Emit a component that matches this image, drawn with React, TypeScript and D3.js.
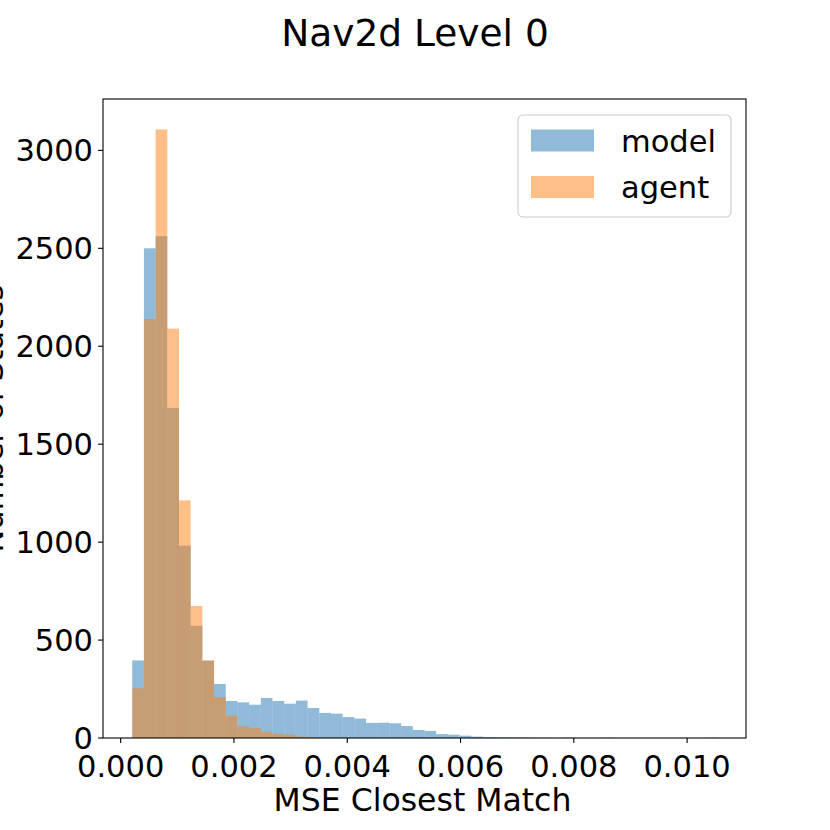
import React from 'react';
import * as d3 from 'd3';

const binStart = 0.000204;
const binWidth = 0.0002064;
const modelCounts = [
  396, 2500, 2562, 1685, 982, 573, 395, 276, 189, 182,
  170, 204, 189, 175, 191, 153, 128, 124, 107, 99,
  77, 78, 75, 61, 41, 36, 20, 17, 12, 7,
  5, 3, 2, 2, 1, 1, 0, 1, 0, 0,
  1, 0, 0, 0, 0, 0, 0, 0, 0, 1,
];
const agentCounts = [
  254, 2139, 3107, 2090, 1213, 674, 396, 208, 114, 60,
  51, 32, 20, 17, 7, 5, 2, 1, 1, 0,
  1, 0, 0, 0, 0, 0, 0, 0, 0, 0,
  0, 0, 0, 0, 0, 0, 0, 0, 0, 0,
  0, 0, 0, 0, 0, 0, 0, 0, 0, 0,
];
const seriesNames = ['model', 'agent'];
const seriesColors = ['#1f77b4', '#ff7f0e'];
const xTicks = [0, 0.002, 0.004, 0.006, 0.008, 0.01];
const yTicks = [0, 500, 1000, 1500, 2000, 2500, 3000];
const titleText = 'Nav2d Level 0';
const xLabelText = 'MSE Closest Match';
const yLabelText = 'Number of States';

const FONT = '"DejaVu Sans", sans-serif';

export default function App() {
  const W = 830, H = 830;
  const left = 103, right = 746, top = 99, bottom = 738;
  const n = modelCounts.length;
  const edges = d3.range(n + 1).map((i) => binStart + i * binWidth);
  const xmin = edges[0], xmax = edges[n], span = xmax - xmin;
  const x = d3.scaleLinear().domain([xmin - 0.05 * span, xmax + 0.05 * span]).range([left, right]);
  const ymax = (d3.max([...modelCounts, ...agentCounts]) as number) * 1.05;
  const y = d3.scaleLinear().domain([0, ymax]).range([bottom, top]);
  const fmt = d3.format('.3f');
  const series = [modelCounts, agentCounts];
  const fs = 30.5;

  return (
    <div style={{ position: 'absolute', left: 0, top: 0 }}>
      <svg width={W} height={H} style={{ display: 'block', fontFamily: FONT }}>
        <rect x={0} y={0} width={W} height={H} fill="#fff" />
        <defs>
          <clipPath id="plotclip">
            <rect x={left} y={top} width={right - left} height={bottom - top} />
          </clipPath>
        </defs>
        <g clipPath="url(#plotclip)">
          {series.map((counts, si) => (
            <g key={si} fill={seriesColors[si]} fillOpacity={0.5}>
              {counts.map((c, i) =>
                c > 0 ? (
                  <rect
                    key={i}
                    x={x(edges[i])}
                    width={x(edges[i + 1]) - x(edges[i])}
                    y={y(c)}
                    height={bottom - y(c)}
                  />
                ) : null
              )}
            </g>
          ))}
        </g>
        {/* spines */}
        <rect x={left} y={top} width={right - left} height={bottom - top} fill="none" stroke="#000" strokeWidth={1.1} />
        {/* x ticks */}
        {xTicks.map((t) => (
          <g key={t}>
            <line x1={x(t)} x2={x(t)} y1={bottom} y2={bottom + 4.9} stroke="#000" strokeWidth={1.1} />
            <text x={x(t)} y={bottom + 39} fontSize={fs} textAnchor="middle" fill="#000">
              {fmt(t)}
            </text>
          </g>
        ))}
        {/* y ticks */}
        {yTicks.map((t) => (
          <g key={t}>
            <line x1={left - 4.9} x2={left} y1={y(t)} y2={y(t)} stroke="#000" strokeWidth={1.1} />
            <text x={left - 10} y={y(t) + 11} fontSize={fs} textAnchor="end" fill="#000">
              {t}
            </text>
          </g>
        ))}
        <text x={(left + right) / 2 - 2} y={811} fontSize={31.5} textAnchor="middle" fill="#000">
          {xLabelText}
        </text>
        <text transform={`translate(3, ${(top + bottom) / 2}) rotate(-90)`} fontSize={fs} textAnchor="middle" fill="#000">
          {yLabelText}
        </text>
        <text x={W / 2} y={46} fontSize={37.5} textAnchor="middle" fill="#000">
          {titleText}
        </text>
        {/* legend */}
        <g>
          <rect x={518} y={115} width={213} height={102} rx={5} fill="#fff" fillOpacity={0.8} stroke="#cccccc" strokeWidth={1.1} />
          {seriesNames.map((name, i) => (
            <g key={name}>
              <rect x={531} y={129.5 + i * 46.5} width={63} height={22} fill={seriesColors[i]} fillOpacity={0.5} />
              <text x={621} y={151.5 + i * 46.5} fontSize={fs} fill="#000">
                {name}
              </text>
            </g>
          ))}
        </g>
      </svg>
    </div>
  );
}
